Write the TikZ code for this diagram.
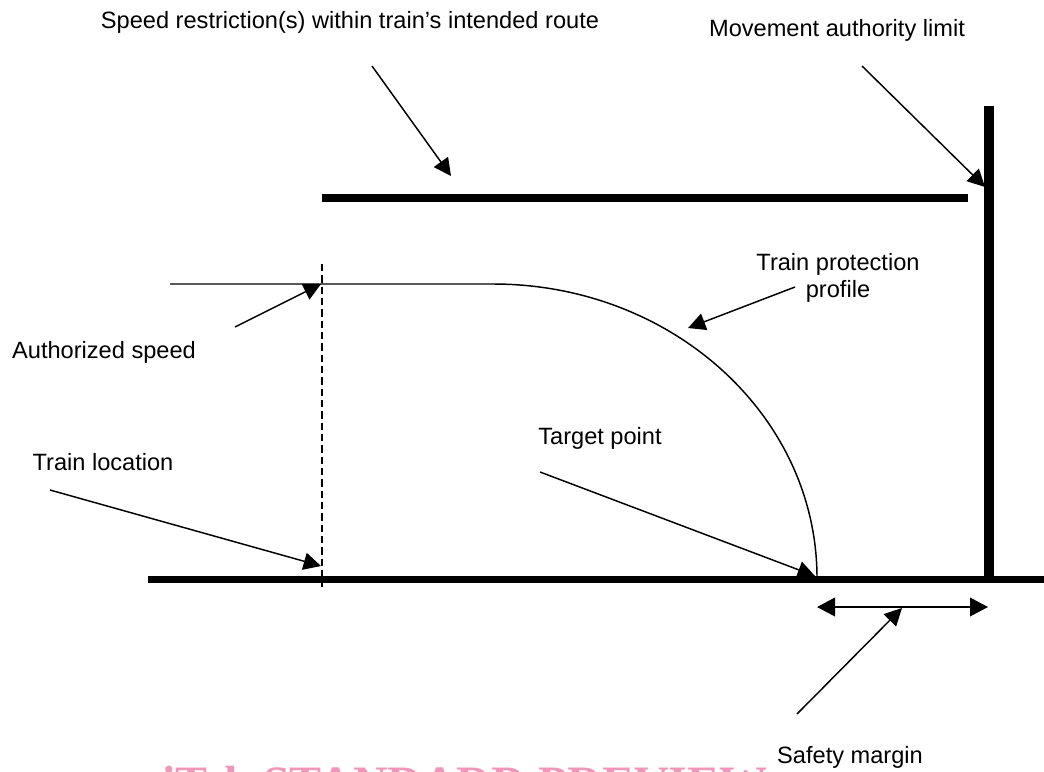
\documentclass[tikz,border=0pt]{standalone}
\usepackage{fontspec}
\setmainfont{Liberation Sans}
\newfontfamily\wmfont{Liberation Serif}
\usetikzlibrary{arrows.meta}
\definecolor{wmpink}{RGB}{240,150,186}
\tikzset{
  lbl/.style={font=\fontsize{17.7pt}{20.5pt}\selectfont, inner sep=0pt, align=center},
  pointer/.style={line width=1.1pt, -{Triangle[length=13pt,width=13pt]}},
  bar/.style={line width=6pt},
  thinline/.style={line width=1.1pt},
}
\begin{document}
\begin{tikzpicture}[x=0.75pt,y=-0.75pt]
\useasboundingbox (0,0) rectangle (1044,771);
\begin{scope}
\clip (0,0) rectangle (1044,771);
\node[anchor=base west, inner sep=0pt, text=wmpink, font=\wmfont\bfseries\fontsize{36pt}{40pt}\selectfont] (wm) at (162,799) {iTeh STANDARD PREVIEW};
\end{scope}
% labels
\node[lbl] (tSR) at (350,22) {Speed restriction(s) within train’s intended route};
\node[lbl] (tMAL) at (837,30) {Movement authority limit};
\node[lbl] (tAS) at (104,352) {Authorized speed};
\node[lbl] (tTL) at (103,462) {Train location};
\node[lbl] (tTP) at (600,438) {Target point};
\node[lbl] (tTPP) at (838,278) {Train protection\\profile};
\node[lbl] (tSM) at (850,757) {Safety margin};
% coordinates
\coordinate (srL) at (322,198);
\coordinate (srR) at (968,198);
\coordinate (malT) at (989,106);
\coordinate (malB) at (989,576);
\coordinate (gL) at (148,579);
\coordinate (gR) at (1044,579);
\coordinate (asL) at (170,284);
\coordinate (curveStart) at (493,284);
\coordinate (dashT) at (322,264);
\coordinate (dashB) at (322,587);
\coordinate (smL) at (817,607);
\coordinate (smR) at (988,607);
% bars
\draw[bar] (srL) -- (srR);
\draw[line width=7.5pt] (malT) -- (malB);
\draw[line width=5.25pt] (gL) -- (gR);
% authorized speed / profile
\draw[thinline] (asL) -- (curveStart) arc[start angle=-90, end angle=0, x radius=324, y radius=294] coordinate (curveEnd);
\draw[line width=0.9pt, dash pattern=on 5.5pt off 3pt] (dashT) -- (dashB);
% safety margin double arrow
\draw[line width=1.1pt, {Triangle[length=13.5pt,width=14pt]}-{Triangle[length=13.5pt,width=14pt]}] (smL) -- (smR);
% pointers
\coordinate (pSR1) at (372,66);   \coordinate (pSR2) at (451,176);
\coordinate (pMAL1) at (862,66);  \coordinate (pMAL2) at (985,187);
\coordinate (pAS1) at (235,327);  \coordinate (pAS2) at (321,284);
\coordinate (pTL1) at (50,490);   \coordinate (pTL2) at (321,566);
\coordinate (pTP1) at (540,472);  \coordinate (pTP2) at (815,576);
\coordinate (pTPP1) at (795,287); \coordinate (pTPP2) at (688,328);
\coordinate (pSM1) at (797,714);  \coordinate (pSM2) at (902,608);
\draw[pointer] (pSR1) -- (pSR2);
\draw[pointer] (pMAL1) -- (pMAL2);
\draw[pointer] (pAS1) -- (pAS2);
\draw[pointer] (pTL1) -- (pTL2);
\draw[pointer] (pTP1) -- (pTP2);
\draw[pointer] (pTPP1) -- (pTPP2);
\draw[pointer] (pSM1) -- (pSM2);
\end{tikzpicture}
\end{document}
